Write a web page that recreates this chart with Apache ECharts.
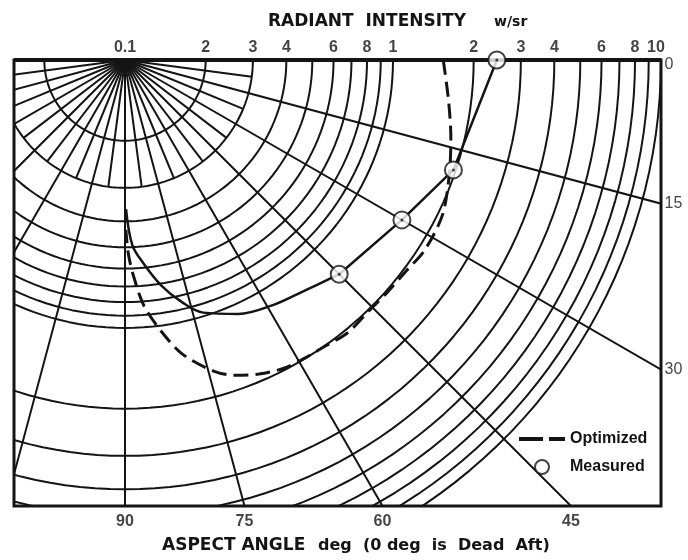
<!DOCTYPE html>
<html>
<head>
  <meta charset="utf-8">
  <title>Radiant intensity vs aspect angle</title>
  <script src="https://cdn.jsdelivr.net/npm/echarts@6/dist/echarts.min.js"></script>
  <style>html, body { margin: 0; padding: 0; background: #fff; }</style>
</head>
<body>
  <div id="chart" style="width:688px;height:560px;"></div>
  <script>
    // radial axis = radiant intensity (w/sr), log scale, 0.1 sits at the centre
    const intensityTicks = [0.1, 0.2, 0.3, 0.4, 0.6, 0.8, 1, 2, 3, 4, 6, 8, 10];
    const intensityTickLabels = ['0.1', '2', '3', '4', '6', '8', '1', '2', '3', '4', '6', '8', '10'];
    const gridCircles = [0.2, 0.3, 0.4, 0.5, 0.6, 0.7, 0.8, 0.9, 1, 2, 3, 4, 5, 6, 7, 8, 9, 10];

    // aspect angle (deg), 0 deg is dead aft
    const rightAngleTicks = [0, 15, 30];
    const bottomAngleTicks = [45, 60, 75, 90];
    const fanAngles = [7.5, 22.5, 37.5, 52.5, 67.5, 82.5, 97.5, 112.5, 127.5, 142.5, 157.5, 172.5];
    const fanEnd = 0.3;

    // [intensity, angle]
    const measuredPoints = [[2.44, 0], [1.96, 18.5], [1.56, 30], [1.35, 45]];
    const measuredTail = [[1.35, 45], [1.23, 52.3], [1.17, 58.9], [1.09, 66], [0.97, 72.8],
      [0.85, 76.7], [0.71, 80.9], [0.58, 84.75], [0.49, 87.75], [0.36, 89.6]];
    const optimized = [[1.54, 0], [1.65, 7.3], [1.78, 13.5], [1.92, 19.45], [2.08, 26], [2.11, 32.3],
      [2.05, 36.9], [2.03, 41.4], [2.02, 45.8], [2.06, 50.9], [2.01, 54.9], [1.99, 58.9], [1.97, 62.6],
      [1.88, 66.9], [1.76, 70.8], [1.61, 74.1], [1.31, 79], [1.05, 82.4], [0.83, 85.6], [0.64, 87.75],
      [0.53, 89], [0.43, 89.7]];

    // layout (px)
    const CX = 125, TOP = 60, LEFT = 14, RIGHT = 661, BOTTOM = 506;
    const DECADE = 268;
    const R_MIN = 0.1, R_MAX = 50;
    const INK = '#141414';
    const FONT = "'Liberation Sans', Arial, sans-serif";
    const TITLE_FONT = "'DejaVu Sans', 'Liberation Sans', sans-serif";

    function pxToValue(px) {
      return R_MIN * Math.pow(10, px / DECADE);
    }
    const rad = d => d * Math.PI / 180;

    const sweep = [];
    for (let a = 0; a <= 180; a += 2) sweep.push(a);

    let series = [];

    gridCircles.forEach(v => {
      series.push({
        type: 'line', coordinateSystem: 'polar', silent: true, symbol: 'none', z: 1,
        data: sweep.map(a => [v, a]),
        lineStyle: { color: INK, width: 2 }
      });
    });

    fanAngles.forEach(a => {
      series.push({
        type: 'line', coordinateSystem: 'polar', silent: true, symbol: 'none', z: 1,
        data: [[R_MIN, a], [fanEnd, a]],
        lineStyle: { color: INK, width: 2 }
      });
    });

    series.push({
      name: 'Optimized', type: 'line', coordinateSystem: 'polar', symbol: 'none', smooth: 0.3, z: 105,
      data: optimized,
      itemStyle: { color: INK },
      lineStyle: { color: INK, width: 3, type: [15, 7] }
    });
    series.push({
      type: 'line', coordinateSystem: 'polar', symbol: 'none', z: 105,
      data: measuredPoints,
      lineStyle: { color: INK, width: 2.5 }
    });
    series.push({
      type: 'line', coordinateSystem: 'polar', symbol: 'none', smooth: 0.35, z: 105,
      data: measuredTail,
      lineStyle: { color: INK, width: 2.5 }
    });
    series.push({
      name: 'Measured', type: 'scatter', coordinateSystem: 'polar', z: 106,
      symbol: 'emptyCircle', symbolSize: 17,
      data: measuredPoints,
      itemStyle: { color: INK, borderWidth: 2 }
    });
    series.push({
      type: 'scatter', coordinateSystem: 'polar', z: 107, silent: true,
      symbol: 'circle', symbolSize: 3,
      data: measuredPoints,
      itemStyle: { color: INK }
    });

    // tick labels along the top edge
    series.push({
      type: 'scatter', coordinateSystem: 'polar', z: 110, silent: true,
      symbolSize: 1, itemStyle: { color: 'rgba(0,0,0,0)' },
      data: intensityTicks.map((v, i) => ({
        value: [v, 0],
        label: { formatter: intensityTickLabels[i], offset: v === 10 ? [-5, 0] : [0, 0] }
      })),
      label: {
        show: true, position: 'top', distance: 4,
        color: INK, fontFamily: FONT, fontWeight: 'bold', fontSize: 16
      }
    });

    // angle labels where the rays leave the frame
    series.push({
      type: 'scatter', coordinateSystem: 'polar', z: 110, silent: true,
      symbolSize: 1, itemStyle: { color: 'rgba(0,0,0,0)' },
      data: rightAngleTicks.map(a => ({
        value: [pxToValue((RIGHT - CX) / Math.cos(rad(a))), a],
        label: { formatter: String(a), offset: a === 0 ? [0, 5] : [0, 0] }
      })),
      label: {
        show: true, position: 'right', distance: 3,
        color: INK, fontFamily: FONT, fontSize: 16
      }
    });
    series.push({
      type: 'scatter', coordinateSystem: 'polar', z: 110, silent: true,
      symbolSize: 1, itemStyle: { color: 'rgba(0,0,0,0)' },
      data: bottomAngleTicks.map(a => ({
        value: [pxToValue((BOTTOM - TOP) / Math.sin(rad(a))), a],
        label: { formatter: String(a) }
      })),
      label: {
        show: true, position: 'bottom', distance: 7,
        color: INK, fontFamily: FONT, fontWeight: 'bold', fontSize: 16
      }
    });

    const W = 688, H = 560;
    const masks = [
      { x: 0, y: 0, width: W, height: TOP },
      { x: 0, y: 0, width: LEFT, height: H },
      { x: RIGHT, y: 0, width: W - RIGHT, height: H },
      { x: 0, y: BOTTOM, width: W, height: H - BOTTOM }
    ].map(s => ({ type: 'rect', z: 100, silent: true, shape: s, style: { fill: '#fff' } }));

    let myChart = echarts.init(document.getElementById('chart'), null, { renderer: 'canvas' });
    let option = {
      animation: false,
      backgroundColor: '#fff',
      polar: {
        center: [CX, TOP],
        radius: DECADE * Math.log10(R_MAX / R_MIN)
      },
      radiusAxis: {
        type: 'log', logBase: 10, min: R_MIN, max: R_MAX,
        axisLine: { show: false }, axisTick: { show: false },
        axisLabel: { show: false }, splitLine: { show: false }
      },
      angleAxis: {
        type: 'value', min: 0, max: 360, interval: 15,
        startAngle: 0, clockwise: true,
        axisLine: { show: false }, axisTick: { show: false }, axisLabel: { show: false },
        splitLine: { show: true, lineStyle: { color: INK, width: 2 } }
      },
      legend: {
        orient: 'vertical', left: 514, top: 426,
        itemWidth: 46, itemHeight: 14, itemGap: 12,
        selectedMode: false,
        textStyle: { color: INK, fontFamily: FONT, fontWeight: 'bold', fontSize: 16 },
        data: [
          { name: 'Optimized', icon: 'path://M0,0H24V4H0ZM30,0H46V4H30Z', itemStyle: { color: INK } },
          { name: 'Measured', icon: 'circle', itemStyle: { color: '#fff', borderColor: INK, borderWidth: 2 } }
        ]
      },
      graphic: masks.concat([
        {
          type: 'rect', z: 101, silent: true,
          shape: { x: LEFT, y: TOP, width: RIGHT - LEFT, height: BOTTOM - TOP },
          style: { fill: null, stroke: INK, lineWidth: 3 }
        },
        {
          type: 'rect', z: 101, silent: true,
          shape: { x: LEFT, y: TOP - 2, width: RIGHT - LEFT, height: 4 },
          style: { fill: INK }
        },
        {
          type: 'text', z: 120, left: 268, top: 13,
          style: { text: 'RADIANT  INTENSITY', fill: INK, font: 'bold 17px ' + TITLE_FONT }
        },
        {
          type: 'text', z: 120, left: 494, top: 15,
          style: { text: 'w/sr', fill: INK, font: 'bold 14px ' + TITLE_FONT }
        },
        {
          type: 'text', z: 120, left: 162, top: 537,
          style: { text: 'ASPECT ANGLE', fill: INK, font: 'bold 17px ' + TITLE_FONT }
        },
        {
          type: 'text', z: 120, left: 318, top: 538,
          style: { text: 'deg  (0 deg  is  Dead  Aft)', fill: INK, font: 'bold 16px ' + TITLE_FONT }
        }
      ]),
      series: series
    };
    myChart.setOption(option);
  </script>
</body>
</html>
